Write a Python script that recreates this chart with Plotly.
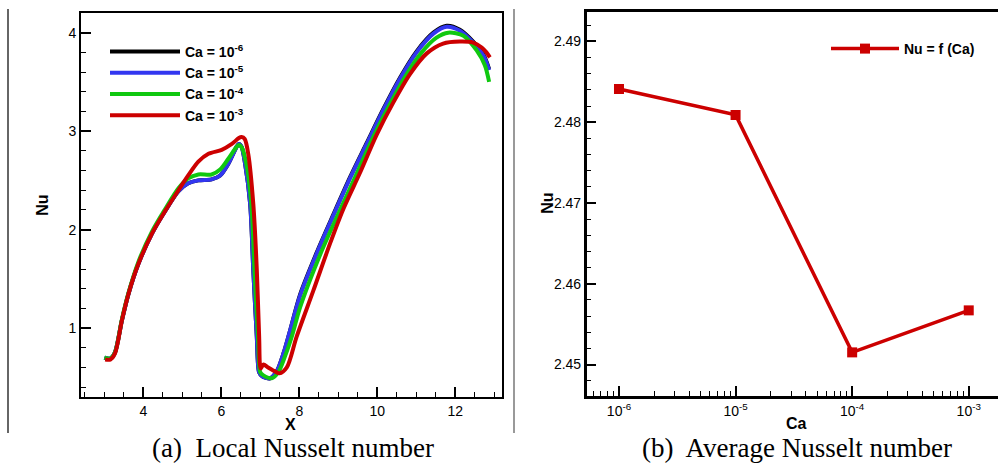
import plotly.graph_objects as go
from plotly.subplots import make_subplots

# ---------------- data: (a) local Nusselt number ----------------
x_ca6 = [3.00, 3.15, 3.27, 3.45, 3.62, 3.87, 4.22, 4.56, 4.90, 5.15, 5.41, 5.75, 5.97, 6.18, 6.39, 6.45,
         6.52, 6.61, 6.74, 6.82, 6.91, 6.97, 7.05, 7.25, 7.42, 7.60, 7.76, 8.02, 8.45, 8.87, 9.30, 9.73,
         10.15, 10.58, 11.01, 11.44, 11.78, 12.12, 12.46, 12.72, 12.87]
nu_ca6 = [0.70, 0.69, 0.75, 1.08, 1.35, 1.65, 1.96, 2.19, 2.39, 2.47, 2.50, 2.51, 2.55, 2.67, 2.84, 2.87,
          2.84, 2.67, 2.26, 1.59, 0.91, 0.55, 0.51, 0.49, 0.56, 0.75, 0.97, 1.34, 1.77, 2.15, 2.53, 2.88,
          3.22, 3.54, 3.81, 4.00, 4.07, 4.03, 3.91, 3.78, 3.63]

x_ca5 = [3.00, 3.15, 3.27, 3.45, 3.62, 3.87, 4.22, 4.56, 4.90, 5.15, 5.41, 5.75, 5.97, 6.18, 6.39, 6.45,
         6.52, 6.61, 6.74, 6.82, 6.91, 6.97, 7.05, 7.25, 7.42, 7.60, 7.76, 8.02, 8.45, 8.87, 9.30, 9.73,
         10.15, 10.58, 11.01, 11.44, 11.78, 12.12, 12.46, 12.72, 12.87]
nu_ca5 = [0.70, 0.69, 0.75, 1.08, 1.35, 1.65, 1.96, 2.19, 2.39, 2.47, 2.50, 2.51, 2.55, 2.67, 2.84, 2.87,
          2.84, 2.67, 2.26, 1.59, 0.91, 0.55, 0.51, 0.49, 0.56, 0.75, 0.97, 1.33, 1.76, 2.14, 2.52, 2.87,
          3.21, 3.53, 3.80, 3.99, 4.06, 4.02, 3.90, 3.77, 3.62]

x_ca4 = [3.00, 3.15, 3.27, 3.45, 3.62, 3.87, 4.22, 4.56, 4.90, 5.15, 5.41, 5.75, 5.97, 6.18, 6.39, 6.45,
         6.53, 6.64, 6.77, 6.85, 6.94, 7.00, 7.08, 7.29, 7.46, 7.64, 7.82, 8.02, 8.55, 9.00, 9.43, 9.86,
         10.28, 10.71, 11.14, 11.52, 11.82, 12.21, 12.55, 12.76, 12.87]
nu_ca4 = [0.70, 0.69, 0.75, 1.09, 1.36, 1.67, 1.98, 2.21, 2.42, 2.52, 2.56, 2.56, 2.61, 2.72, 2.84, 2.86,
          2.83, 2.67, 2.26, 1.59, 0.91, 0.55, 0.52, 0.49, 0.55, 0.72, 0.93, 1.21, 1.76, 2.16, 2.53, 2.91,
          3.24, 3.55, 3.80, 3.95, 4.00, 3.97, 3.82, 3.67, 3.50]

x_ca3 = [3.02, 3.15, 3.27, 3.45, 3.62, 3.87, 4.22, 4.56, 4.90, 5.15, 5.41, 5.67, 6.01, 6.27, 6.45, 6.52,
         6.60, 6.69, 6.82, 6.91, 6.97, 7.01, 7.08, 7.20, 7.33, 7.49, 7.68, 7.93, 8.36, 8.79, 9.13, 9.56,
         9.98, 10.41, 10.84, 11.27, 11.69, 12.12, 12.46, 12.68, 12.80, 12.89]
nu_ca3 = [0.68, 0.68, 0.74, 1.08, 1.35, 1.65, 1.96, 2.19, 2.40, 2.55, 2.69, 2.77, 2.81, 2.87, 2.93, 2.94,
          2.92, 2.77, 2.26, 1.59, 0.91, 0.59, 0.63, 0.60, 0.57, 0.54, 0.60, 0.91, 1.38, 1.86, 2.21, 2.58,
          2.96, 3.29, 3.58, 3.79, 3.89, 3.91, 3.90, 3.85, 3.80, 3.75]

# ---------------- data: (b) average Nusselt number ----------------
ca_values = [1e-6, 1e-5, 1e-4, 1e-3]
nu_avg = [2.4841, 2.4809, 2.4515, 2.4567]
ca_tick_text = ["10<sup>-6</sup>", "10<sup>-5</sup>", "10<sup>-4</sup>", "10<sup>-3</sup>"]

local_series = [
    ("Ca = 10<sup>-6</sup>", x_ca6, nu_ca6, "#000000"),
    ("Ca = 10<sup>-5</sup>", x_ca5, nu_ca5, "#3236f0"),
    ("Ca = 10<sup>-4</sup>", x_ca4, nu_ca4, "#10c810"),
    ("Ca = 10<sup>-3</sup>", x_ca3, nu_ca3, "#cc0000"),
]

W, H = 998, 464
FONT = "Liberation Sans, Arial, sans-serif"
SERIF = "Liberation Serif, Times New Roman, serif"

fig = make_subplots(rows=1, cols=2)

for name, xs, ys, col in local_series:
    fig.add_trace(go.Scatter(x=xs, y=ys, mode="lines", name=name,
                             line=dict(color=col, width=4, shape="spline", smoothing=0.8),
                             legend="legend"), row=1, col=1)

fig.add_trace(go.Scatter(x=ca_values, y=nu_avg, mode="lines+markers", name="Nu = f (Ca)",
                         line=dict(color="#cc0000", width=3.5),
                         marker=dict(symbol="square", size=10, color="#cc0000"),
                         legend="legend2"), row=1, col=2)

def px_x(p):
    return p / W

def px_y(p):
    return 1 - p / H

axis_common = dict(showline=True, linecolor="black", ticks="inside", tickcolor="black",
                   showgrid=False, zeroline=False,
                   tickfont=dict(family=FONT, size=14, color="black"))

fig.update_layout(
    width=W, height=H, margin=dict(l=0, r=0, t=0, b=0),
    paper_bgcolor="white", plot_bgcolor="white", showlegend=True,
    xaxis=dict(domain=[px_x(81), px_x(502)], range=[2.4, 13.2], dtick=2, tick0=0,
               linewidth=2, mirror=True, ticklen=10, tickwidth=1.5,
               minor=dict(dtick=0.5, ticks="inside", ticklen=5, tickcolor="black", tickwidth=1),
               **axis_common),
    yaxis=dict(domain=[px_y(397), px_y(13)], range=[0.3, 4.2], dtick=1, tick0=0,
               linewidth=2, mirror=True, ticklen=10, tickwidth=1.5,
               minor=dict(dtick=0.2, ticks="inside", ticklen=5, tickcolor="black", tickwidth=1),
               **axis_common),
    xaxis2=dict(domain=[px_x(586.7), 1.0], type="log", range=[-6.277, -2.749],
                tickvals=ca_values, ticktext=ca_tick_text,
                linewidth=2.5, mirror=True, ticklen=10, tickwidth=1.5,
                minor=dict(dtick="D1", ticks="inside", ticklen=5, tickcolor="black", tickwidth=1),
                **axis_common),
    yaxis2=dict(domain=[px_y(396), px_y(12.3)], range=[2.4461, 2.4936], dtick=0.01, tick0=0,
                tickformat=".2f", linewidth=2.5, mirror=False, ticklen=10, tickwidth=1.5,
                minor=dict(dtick=0.002, ticks="inside", ticklen=5, tickcolor="black", tickwidth=1),
                **axis_common),
    legend=dict(x=px_x(105), y=px_y(36), xanchor="left", yanchor="top",
                bgcolor="rgba(0,0,0,0)", borderwidth=0, itemwidth=70,
                font=dict(family=FONT, size=14, color="black", weight="bold"),
                tracegroupgap=0),
    legend2=dict(x=px_x(826), y=px_y(33), xanchor="left", yanchor="top",
                 bgcolor="rgba(0,0,0,0)", borderwidth=0, itemwidth=68,
                 font=dict(family=FONT, size=14, color="black", weight="bold")),
)

ann = [
    dict(text="<b>Nu</b>", x=px_x(41.7), y=px_y(205), textangle=-90, size=16),
    dict(text="<b>X</b>", x=px_x(290.7), y=px_y(424), textangle=0, size=16),
    dict(text="<b>Nu</b>", x=px_x(546.7), y=px_y(203), textangle=-90, size=16),
    dict(text="<b>Ca</b>", x=px_x(796.7), y=px_y(423), textangle=0, size=16),
]
for a in ann:
    fig.add_annotation(text=a["text"], x=a["x"], y=a["y"], xref="paper", yref="paper",
                       showarrow=False, textangle=a["textangle"], xanchor="center", yanchor="middle",
                       font=dict(family=FONT, size=a["size"], color="black"))

fig.add_annotation(text="(a)  Local Nusselt number", x=px_x(293), y=px_y(448), xref="paper", yref="paper",
                   showarrow=False, xanchor="center", yanchor="middle",
                   font=dict(family=SERIF, size=27, color="black"))
fig.add_annotation(text="(b)  Average Nusselt number", x=px_x(797), y=px_y(448), xref="paper", yref="paper",
                   showarrow=False, xanchor="center", yanchor="middle",
                   font=dict(family=SERIF, size=27, color="black"))

# panel separators
fig.add_shape(type="line", xref="paper", yref="paper", x0=px_x(8), x1=px_x(8), y0=px_y(433), y1=px_y(9),
              line=dict(color="#333333", width=1.5))
fig.add_shape(type="line", xref="paper", yref="paper", x0=px_x(514), x1=px_x(514), y0=px_y(433), y1=px_y(9),
              line=dict(color="#777777", width=1.5))

fig.write_html("out.html", config={"displayModeBar": False},
               post_script="document.body.style.margin='0px';document.body.style.overflow='hidden';")
